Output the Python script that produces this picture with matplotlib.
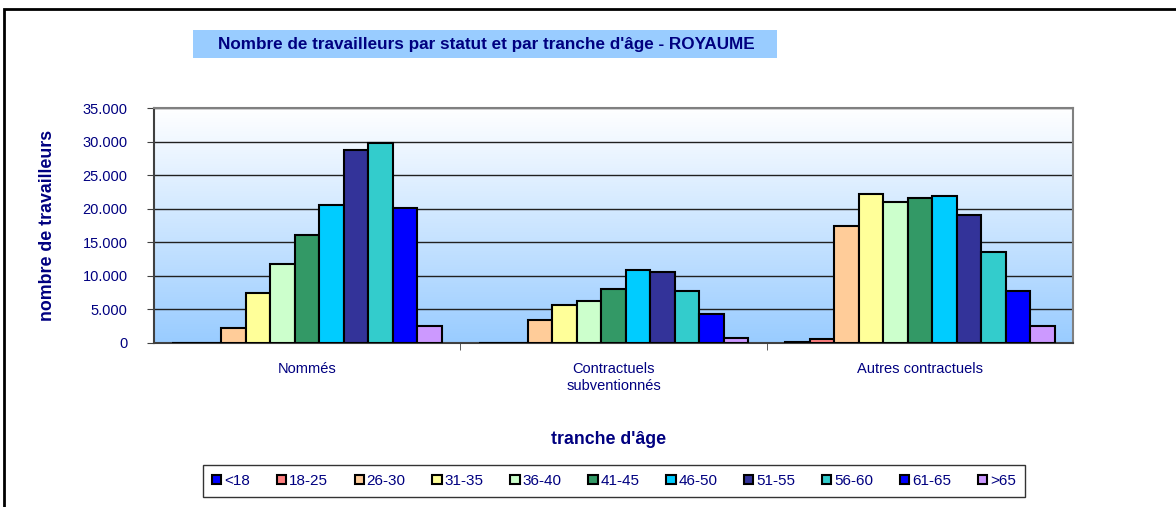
import numpy as np
import matplotlib.pyplot as plt
from matplotlib.patches import Rectangle
from matplotlib.colors import LinearSegmentedColormap

plt.rcParams['font.family'] = ['Liberation Sans', 'DejaVu Sans']

# data ------------------------------------------------------
statuts = ["Nommés", "Contractuels\nsubventionnés", "Autres contractuels"]
tranches = ["<18", "18-25", "26-30", "31-35", "36-40", "41-45",
            "46-50", "51-55", "56-60", "61-65", ">65"]
nommes = [0, 0, 2300, 7500, 11800, 16100, 20500, 28700, 29800, 20100, 2600]
contractuels_sub = [0, 0, 3500, 5700, 6300, 8100, 10900, 10600, 7700, 4300, 800]
autres = [150, 650, 17400, 22200, 21000, 21600, 21900, 19100, 13600, 7800, 2500]
couleurs = ["#0000FF", "#FF8080", "#FFCC99", "#FFFF99", "#CCFFCC", "#339966",
            "#00CCFF", "#333399", "#33CCCC", "#0000FF", "#CC99FF"]

valeurs = np.array([nommes, contractuels_sub, autres])
navy = "#000080"
W, H = 1176, 507

fig = plt.figure(figsize=(W/100, H/100), dpi=100)
ax = fig.add_axes([154/W, 1 - 343/H, (1073-154)/W, (343-108)/H])

# gradient background
grad = np.linspace(0, 1, 256).reshape(-1, 1)
cmap = LinearSegmentedColormap.from_list("bg", ["#99CCFF", "#FFFFFF"])
ax.imshow(grad, cmap=cmap, aspect="auto", extent=[-0.5, 2.5, 0, 35000],
          origin="lower", zorder=0)

n = len(tranches)
w = 0.08
x = np.arange(len(statuts))
for i in range(n):
    ax.bar(x - w * n / 2 + w * (i + 0.5), valeurs[:, i], width=w,
           color=couleurs[i], edgecolor="black", linewidth=1.5,
           label=tranches[i], zorder=3)

ax.set_xlim(-0.5, 2.5)
ax.set_ylim(0, 35000)
ax.set_yticks(np.arange(0, 35001, 5000))
ax.set_yticklabels([f"{v:,}".replace(",", ".") for v in range(0, 35001, 5000)])
ax.yaxis.grid(True, color="#202020", linewidth=1)
for line in ax.get_ygridlines():
    line.set_zorder(1)

ax.set_xticks(x)
ax.set_xticklabels(statuts)
ax.set_xticks([0.5, 1.5], minor=True)
ax.tick_params(axis="x", which="major", length=0, pad=14, labelsize=10.5, labelcolor=navy)
ax.tick_params(axis="x", which="minor", length=5, direction="out", color="#404040")
ax.tick_params(axis="y", length=5, direction="out", pad=14, labelsize=10.5,
               labelcolor=navy, color="#404040")

for s in ["left", "bottom"]:
    ax.spines[s].set_color("#404040")
    ax.spines[s].set_linewidth(1.5)
for s in ["top", "right"]:
    ax.spines[s].set_color("#808080")
    ax.spines[s].set_linewidth(1.5)

ax.set_ylabel("nombre de travailleurs", fontsize=12.8, fontweight="bold", color=navy)
ax.yaxis.set_label_coords((56-154)/919, 0.5)
fig.text(609/W, 1 - 440/H, "tranche d'âge", fontsize=12.8, fontweight="bold",
         color=navy, ha="center", va="center")

# title with box
fig.add_artist(Rectangle((193/W, 1 - 58/H), (777-193)/W, 28/H, transform=fig.transFigure,
                         facecolor="#99CCFF", edgecolor="none"))
fig.text(486/W, 1 - 44/H, "Nombre de travailleurs par statut et par tranche d'âge - ROYAUME",
         fontsize=12.3, fontweight="bold", color=navy, ha="center", va="center")

# outer frame
fig.add_artist(Rectangle((4/W, -0.05), 1.2, 1 - 9/H + 0.05, transform=fig.transFigure,
                         fill=False, edgecolor="black", linewidth=2))

leg = fig.legend(loc="center", bbox_to_anchor=(614/W, 1 - 481/H), ncol=n,
                 frameon=True, fancybox=False, edgecolor="black", fontsize=11,
                 handlelength=0.6, handleheight=0.6, handletextpad=0.2,
                 columnspacing=1.75, borderpad=0.6, borderaxespad=0)
leg.get_frame().set_linewidth(1)
for t in leg.get_texts():
    t.set_color(navy)

fig.savefig("out.png", dpi=100)
